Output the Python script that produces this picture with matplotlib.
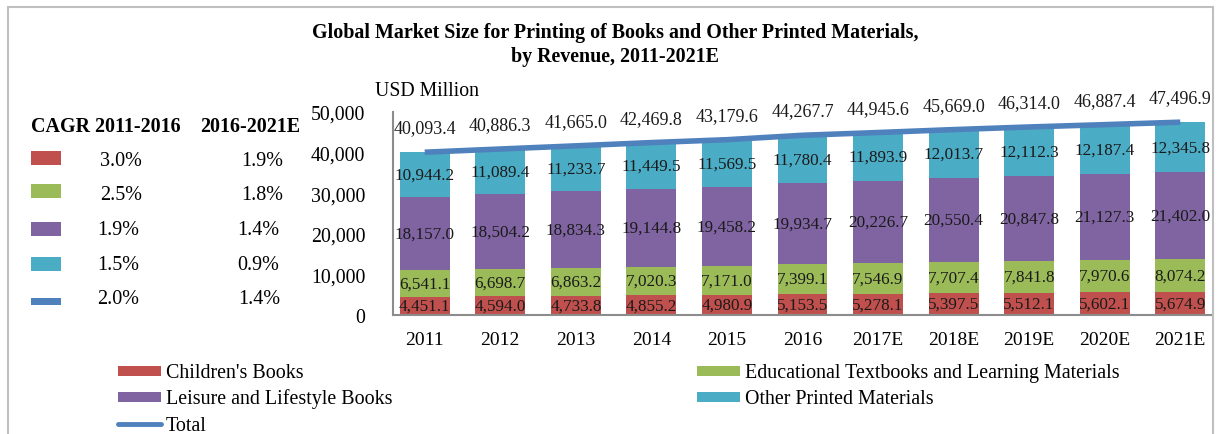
import matplotlib
matplotlib.use("Agg")
import matplotlib.pyplot as plt
from matplotlib.patches import Rectangle
from matplotlib.lines import Line2D
import numpy as np

years = ["2011", "2012", "2013", "2014", "2015", "2016",
         "2017E", "2018E", "2019E", "2020E", "2021E"]
childrens = [4451.1, 4594.0, 4733.8, 4855.2, 4980.9, 5153.5,
             5278.1, 5397.5, 5512.1, 5602.1, 5674.9]
educational = [6541.1, 6698.7, 6863.2, 7020.3, 7171.0, 7399.1,
               7546.9, 7707.4, 7841.8, 7970.6, 8074.2]
leisure = [18157.0, 18504.2, 18834.3, 19144.8, 19458.2, 19934.7,
           20226.7, 20550.4, 20847.8, 21127.3, 21402.0]
other = [10944.2, 11089.4, 11233.7, 11449.5, 11569.5, 11780.4,
         11893.9, 12013.7, 12112.3, 12187.4, 12345.8]
total = [40093.4, 40886.3, 41665.0, 42469.8, 43179.6, 44267.7,
         44945.6, 45669.0, 46314.0, 46887.4, 47496.9]

series_names = ["Children's Books", "Educational Textbooks and Learning Materials",
                "Leisure and Lifestyle Books", "Other Printed Materials", "Total"]
cagr_2011_2016 = ["3.0%", "2.5%", "1.9%", "1.5%", "2.0%"]
cagr_2016_2021 = ["1.9%", "1.8%", "1.4%", "0.9%", "1.4%"]
yticks = [0, 10000, 20000, 30000, 40000, 50000]

colors = ["#C0504D", "#9BBB59", "#8064A2", "#4BACC6", "#4F81BD"]

plt.rcParams['font.family'] = ['Liberation Serif', 'DejaVu Serif']

W, H = 1220, 435
fig = plt.figure(figsize=(W / 100, H / 100), dpi=100)

def fx(px):
    return px / W

def fy(py):
    return 1 - py / H

# outer frame
fig.add_artist(Rectangle((fx(8), fy(445)), fx(1205), fy(8) - fy(445),
                         transform=fig.transFigure, fill=False,
                         edgecolor="#BFBFBF", lw=1.5))

ax = fig.add_axes([fx(393), fy(316), fx(1212) - fx(393), fy(113) - fy(316)])
x = np.arange(len(years))
width = 0.66
stacks = [childrens, educational, leisure, other]
bottom = np.zeros(len(years))
for vals, c in zip(stacks, colors[:4]):
    vals = np.array(vals)
    ax.bar(x, vals, width, bottom=bottom, color=c, edgecolor="none", zorder=2)
    for xi, b, v in zip(x, bottom, vals):
        ax.text(xi, b + v / 2, f"{v:,.1f}", ha="center", va="center",
                fontsize=12.3, color="#1a1a1a", zorder=4)
    bottom = bottom + vals

ax.plot(x, total, color=colors[4], lw=4, solid_capstyle="butt", zorder=3)
for xi, t in zip(x, total):
    ax.annotate(f"{t:,.1f}", (xi, t), xytext=(0, 17.5), textcoords="offset points",
                ha="center", va="center", fontsize=13, color="#1a1a1a")

ax.set_xlim(-0.42, len(years) - 1 + 0.42)
ax.set_ylim(0, 50000)
ax.set_xticks(x)
ax.set_xticklabels(years, fontsize=14)
ax.set_yticks(yticks)
ax.set_yticklabels([f"{v:,}" for v in yticks], fontsize=14.3)
ax.tick_params(axis="both", length=0)
ax.tick_params(axis="y", pad=20)
ax.tick_params(axis="x", pad=11.5)
for s in ["top", "right"]:
    ax.spines[s].set_visible(False)
for s in ["left", "bottom"]:
    ax.spines[s].set_color("#8C8C8C")
    ax.spines[s].set_linewidth(1.5)

# title
fig.text(fx(615), fy(33), "Global Market Size for Printing of Books and Other Printed Materials,",
         ha="center", va="center", fontsize=14.4, fontweight="bold")
fig.text(fx(615), fy(57), "by Revenue, 2011-2021E",
         ha="center", va="center", fontsize=14.4, fontweight="bold")
fig.text(fx(375), fy(91), "USD Million", ha="left", va="center", fontsize=14.2)

# CAGR table
fig.text(fx(31), fy(127), "CAGR 2011-2016", ha="left", va="center", fontsize=14.4, fontweight="bold")
fig.text(fx(200), fy(127), "2016-2021E", ha="left", va="center", fontsize=14.4, fontweight="bold")
row_y = [162, 196, 231, 265, 300]
patch_y = [159, 192, 230, 265, 302]
col1_x = [121, 121, 118, 118, 118]
col2_x = [262, 262, 258, 258, 259]
for i in range(len(cagr_2011_2016)):
    h = 14 if i < 4 else 7
    py = patch_y[i]
    fig.add_artist(Rectangle((fx(31), fy(py + h / 2)), fx(30), fy(py - h / 2) - fy(py + h / 2),
                             transform=fig.transFigure, facecolor=colors[i], edgecolor="none"))
    fig.text(fx(col1_x[i]), fy(row_y[i]), cagr_2011_2016[i], ha="center", va="center", fontsize=14.5)
    fig.text(fx(col2_x[i]), fy(row_y[i]), cagr_2016_2021[i], ha="center", va="center", fontsize=14.5)

# bottom legend
leg_pos = [(118, 372), (697, 372), (118, 398), (697, 398), (118, 425)]
for i, (lx, ly) in enumerate(leg_pos):
    if i < 4:
        fig.add_artist(Rectangle((fx(lx), fy(ly + 5)), fx(43), fy(ly - 5) - fy(ly + 5),
                                 transform=fig.transFigure, facecolor=colors[i], edgecolor="none"))
    else:
        fig.add_artist(Line2D([fx(lx), fx(lx + 43)], [fy(ly), fy(ly)],
                              transform=fig.transFigure, color=colors[i], lw=3.5,
                              solid_capstyle="round"))
    fig.text(fx(lx + 48), fy(ly + 1.5), series_names[i], ha="left", va="center", fontsize=14.4)

fig.savefig("out.png", dpi=100)
